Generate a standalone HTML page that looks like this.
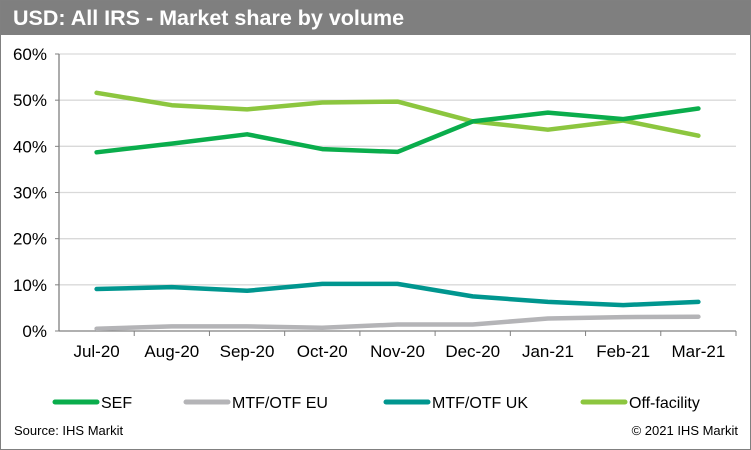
<!DOCTYPE html>
<html><head><meta charset="utf-8"><style>
body{margin:0;background:#fff;font-family:"Liberation Sans",Arial,sans-serif}
#wrap{position:relative;width:749px;height:448px;border:1px solid #808080;overflow:hidden}
#hdr{position:absolute;left:0;top:0;width:749px;height:34px;background:#7f7f7f}
#ttl{position:absolute;left:12px;top:0;color:#fff;font-weight:bold;font-size:21.5px;line-height:34px;white-space:nowrap}
svg{position:absolute;left:0;top:0}
text{font-family:"Liberation Sans",Arial,sans-serif;font-size:17px;fill:#000}
</style></head><body>
<div id="wrap">
<div id="hdr"><div id="ttl">USD: All IRS - Market share by volume</div></div>
<svg id="chart" width="749" height="448"></svg>
</div>
<script>
const categories=["Jul-20","Aug-20","Sep-20","Oct-20","Nov-20","Dec-20","Jan-21","Feb-21","Mar-21"];
const sefValues=[38.7,40.6,42.6,39.4,38.8,45.4,47.3,45.9,48.2];
const euValues=[0.5,1.0,1.0,0.7,1.4,1.4,2.7,3.0,3.1];
const ukValues=[9.1,9.5,8.7,10.2,10.2,7.5,6.3,5.6,6.3];
const offValues=[51.6,48.9,48.0,49.5,49.7,45.4,43.6,45.6,42.3];
const yTicks=[0,10,20,30,40,50,60];
const seriesNames=["SEF","MTF/OTF EU","MTF/OTF UK","Off-facility"];
const NS="http://www.w3.org/2000/svg";
const svg=document.getElementById('chart');
const x0=58,x1=735,yTop=53,yBot=330;
const band=(x1-x0)/categories.length;
const X=i=>x0+band*(i+0.5);
const Y=v=>yBot-(v/60)*(yBot-yTop);
function mk(t,a){const e=document.createElementNS(NS,t);for(const k in a)e.setAttribute(k,a[k]);svg.appendChild(e);return e;}
function txt(x,y,s,anchor,size){const e=mk('text',{x:x,y:y,'text-anchor':anchor||'start'});if(size)e.style.fontSize=size+'px';e.textContent=s;return e;}
yTicks.forEach(t=>{
  if(t>0){const g=mk('line',{x1:x0,x2:x1,y1:Y(t),y2:Y(t),stroke:'#d9d9d9','stroke-width':1.3});
  
  }
  const tk=mk('line',{x1:x0-4,x2:x0,y1:Y(t),y2:Y(t),stroke:'#808080'});
  
  
  const l=txt(x0-12,Y(t)+6,t+'%','end');
  
  
});
const ya=mk('line',{x1:x0,x2:x0,y1:yTop,y2:yBot,stroke:'#808080','stroke-width':1.3});


const xa=mk('line',{x1:x0,x2:x1,y1:yBot,y2:yBot,stroke:'#808080','stroke-width':1.3});


categories.forEach((c,i)=>{
  const tk=mk('line',{x1:x0+band*(i+1),x2:x0+band*(i+1),y1:yBot,y2:yBot+5,stroke:'#808080'});
  
  
  const l=txt(X(i),yBot+26,c,'middle');
  
  
});
const colors=['#0aad4c','#b4b4b7','#00968f','#8cc63f'];
const all=[sefValues,euValues,ukValues,offValues];
const order=[1,2,3,0];
order.forEach(s=>{
  const d=all[s].map((v,i)=>(i?'L':'M')+X(i).toFixed(1)+' '+Y(v).toFixed(1)).join(' ');
  const p=mk('path',{d:d,fill:'none',stroke:colors[s],'stroke-width':4.5,'stroke-linejoin':'round','stroke-linecap':'round'});
  
  
});
const lx=[54,185,385,582];
seriesNames.forEach((n,s)=>{
  const l=mk('line',{x1:lx[s],x2:lx[s]+42,y1:401,y2:401,stroke:colors[s],'stroke-width':5,'stroke-linecap':'round'});
  
  
  const t=txt(lx[s]+46,407,n,'start',16);
  
  
});
const src=txt(13,434,'Source: IHS Markit','start',13);


const cp=txt(737,434,'© 2021 IHS Markit','end',13);


</script>
</body></html>
